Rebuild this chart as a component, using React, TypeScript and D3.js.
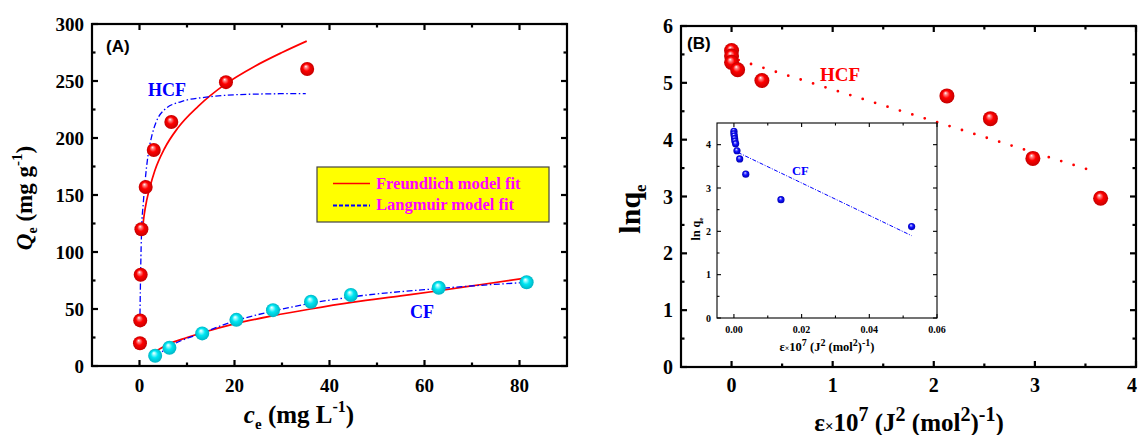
import * as d3 from 'd3';

const W = 1139;
const H = 435;
const serif = '"Liberation Serif", "Times New Roman", Times, serif';
const sans = '"Liberation Sans", Arial, Helvetica, sans-serif';

// (A) isotherm points, HCF
const hcfCe = [0.1, 0.15, 0.25, 0.4, 1.3, 3.0, 6.7, 18.2, 35.3];
const hcfQe = [20, 40, 80, 120, 157, 189.5, 214, 249, 260.5];
// (A) isotherm points, CF
const cfCe = [3.3, 6.3, 13.2, 20.4, 28.1, 36.1, 44.5, 63, 81.5];
const cfQe = [9, 16, 28.6, 40.5, 49, 56.4, 62.3, 68.7, 73.4];

// fitted curves
const hcfFreuC = [0.5, 1.0, 1.5, 2.2, 3.2, 5.3, 8.1, 12.4, 18, 24.3, 30, 35.2];
const hcfFreuQ = [115, 133, 145, 157, 171, 191, 209, 228, 247, 263, 275, 285];
const hcfLangC = [0.1, 0.25, 0.45, 0.8, 1.2, 1.8, 2.6, 3.5, 5.3, 8.8, 14.5, 24.3, 35];
const hcfLangQ = [45, 85, 120, 143, 163, 185, 202, 214, 225, 232, 236, 238.5, 239];
const cfFreuC = [3.3, 6, 10, 13, 20, 28, 36, 45, 55, 63, 72, 82];
const cfFreuQ = [12.5, 19, 25, 29, 37, 44, 50, 56, 61.5, 66, 71.5, 77.5];
const cfLangC = [3.3, 6.3, 13.2, 20.4, 28, 36, 44.5, 63, 82];
const cfLangQ = [8, 17, 29, 40, 48, 55, 60.5, 68, 73.5];

// (B) D-R plot, HCF
const hcfEps = [0.0, 0.0, 0.0, 0.06, 0.3, 2.13, 2.56, 2.98, 3.65];
const hcfLnq = [5.57, 5.47, 5.36, 5.23, 5.04, 4.77, 4.37, 3.67, 2.97];
const hcfFitEps = [0.07, 3.59];
const hcfFitLnq = [5.4, 3.44];
// (B) inset, CF
const cfEps = [0.0, 0.0, 0.0001, 0.0002, 0.0003, 0.0005, 0.0009, 0.0017, 0.0035, 0.0139, 0.0525];
const cfLnq = [4.31, 4.25, 4.2, 4.14, 4.08, 4.02, 3.86, 3.67, 3.32, 2.73, 2.11];
const cfFitEps = [0.0012, 0.0525];
const cfFitLnq = [3.82, 1.9];

// ticks
const aXMajor = [0, 20, 40, 60, 80];
const aXMinor = [10, 30, 50, 70];
const aYMajor = [0, 50, 100, 150, 200, 250, 300];
const aYMinor = [25, 75, 125, 175, 225, 275];
const bXMajor = [0, 1, 2, 3, 4];
const bXMinor = [0.5, 1.5, 2.5, 3.5];
const bYMajor = [0, 1, 2, 3, 4, 5, 6];
const bYMinor = [0.5, 1.5, 2.5, 3.5, 4.5, 5.5];
const iXMajor = [0, 0.02, 0.04, 0.06];
const iXMinor = [0.01, 0.03, 0.05];
const iYMajor = [0, 1, 2, 3, 4];
const iYMinor = [0.5, 1.5, 2.5, 3.5];

const xA = d3.scaleLinear().domain([-10, 90]).range([92, 567]);
const yA = d3.scaleLinear().domain([0, 300]).range([366, 24]);
const xB = d3.scaleLinear().domain([-0.5, 4]).range([681, 1136]);
const yB = d3.scaleLinear().domain([0, 6]).range([367, 26]);
const xI = d3.scaleLinear().domain([-0.005, 0.06]).range([717, 937]);
const yI = d3.scaleLinear().domain([0, 4.5]).range([318, 123]);

function path(xs, ys, sx, sy, smooth = true) {
    const line = d3
        .line<number>()
        .x((i) => sx(xs[i]))
        .y((i) => sy(ys[i]));
    if (smooth) line.curve(d3.curveMonotoneX);
    return line(d3.range(xs.length)) || '';
}

function Frame({ sx, sy, xMajor, xMinor, yMajor, yMinor, major, minor, sw, fs, xGap, yGap, fmtX, fmtY, xMax = W }) {
    const [x0, x1] = sx.range();
    const [y0, y1] = sy.range();
    const tick = (key, a, b, c, d) => <line key={key} x1={a} y1={b} x2={c} y2={d} stroke="#000" strokeWidth={sw} />;
    return (
        <g fontFamily={serif} fontWeight="bold" fontSize={fs}>
            {xMajor.map((v) => (
                <g key={'xM' + v}>
                    {tick('b', sx(v), y0, sx(v), y0 - major)}
                    {tick('t', sx(v), y1, sx(v), y1 + major)}
                    {/* keep the last label inside the window */}
                    <text x={Math.min(sx(v), xMax)} y={y0 + xGap} textAnchor="middle">
                        {fmtX(v)}
                    </text>
                </g>
            ))}
            {xMinor.map((v) => (
                <g key={'xm' + v}>
                    {tick('b', sx(v), y0, sx(v), y0 - minor)}
                    {tick('t', sx(v), y1, sx(v), y1 + minor)}
                </g>
            ))}
            {yMajor.map((v) => (
                <g key={'yM' + v}>
                    {tick('l', x0, sy(v), x0 + major, sy(v))}
                    {tick('r', x1, sy(v), x1 - major, sy(v))}
                    <text x={x0 - yGap} y={sy(v)} dy="0.35em" textAnchor="end">
                        {fmtY(v)}
                    </text>
                </g>
            ))}
            {yMinor.map((v) => (
                <g key={'ym' + v}>
                    {tick('l', x0, sy(v), x0 + minor, sy(v))}
                    {tick('r', x1, sy(v), x1 - minor, sy(v))}
                </g>
            ))}
            <rect x={x0} y={y1} width={x1 - x0} height={y0 - y1} fill="none" stroke="#000" strokeWidth={sw} />
        </g>
    );
}

function Balls({ xs, ys, sx, sy, r, fill }) {
    return (
        <g>
            {xs.map((v, i) => (
                <circle key={i} cx={sx(v)} cy={sy(ys[i])} r={r} fill={fill} />
            ))}
        </g>
    );
}

function Grad({ id, c0, c1, c2 }) {
    return (
        <radialGradient id={id} cx="0.5" cy="0.5" r="0.5" fx="0.4" fy="0.3">
            <stop offset="0" stopColor="#ffffff" />
            <stop offset="0.18" stopColor={c0} />
            <stop offset="0.5" stopColor={c1} />
            <stop offset="1" stopColor={c2} />
        </radialGradient>
    );
}

export default function App() {
    const fmtInt = d3.format('d');
    return (
        <div style={{ position: 'absolute', left: 0, top: 0 }}>
            <svg width={W} height={H} viewBox={`0 0 ${W} ${H}`} style={{ display: 'block' }}>
                <defs>
                    <Grad id="gRed" c0="#ff8a8a" c1="#ff0000" c2="#c40000" />
                    <Grad id="gCyan" c0="#9ffcff" c1="#00e6f2" c2="#00b4c4" />
                    <Grad id="gBlue" c0="#8a8aff" c1="#1010ff" c2="#0000b0" />
                </defs>
                <rect width={W} height={H} fill="#fff" />

                {/* ---------- panel A ---------- */}
                <path d={path(hcfFreuC, hcfFreuQ, xA, yA)} fill="none" stroke="#ff0000" strokeWidth={1.7} />
                <path d={path(cfFreuC, cfFreuQ, xA, yA)} fill="none" stroke="#ff0000" strokeWidth={1.7} />
                <path
                    d={path(hcfLangC, hcfLangQ, xA, yA)}
                    fill="none"
                    stroke="#0000ff"
                    strokeWidth={1.3}
                    strokeDasharray="6,2.5,1.5,2.5"
                />
                <path
                    d={path(cfLangC, cfLangQ, xA, yA)}
                    fill="none"
                    stroke="#0000ff"
                    strokeWidth={1.3}
                    strokeDasharray="6,2.5,1.5,2.5"
                />
                <Balls xs={hcfCe} ys={hcfQe} sx={xA} sy={yA} r={7} fill="url(#gRed)" />
                <Balls xs={cfCe} ys={cfQe} sx={xA} sy={yA} r={7} fill="url(#gCyan)" />
                <Frame
                    sx={xA}
                    sy={yA}
                    xMajor={aXMajor}
                    xMinor={aXMinor}
                    yMajor={aYMajor}
                    yMinor={aYMinor}
                    major={6}
                    minor={3.5}
                    sw={2.2}
                    fs={19}
                    xGap={25.5}
                    yGap={8}
                    fmtX={fmtInt}
                    fmtY={fmtInt}
                />
                <text x={106} y={52} fontFamily={sans} fontWeight="bold" fontSize={17}>
                    (A)
                </text>
                <text x={148} y={96} fontFamily={serif} fontWeight="bold" fontSize={18} fill="#0000ff">
                    HCF
                </text>
                <text x={410} y={318} fontFamily={serif} fontWeight="bold" fontSize={18} fill="#0000ff">
                    CF
                </text>

                {/* legend */}
                <rect x={317} y={167} width={232} height={55} fill="#ffff00" stroke="#444" strokeWidth={1.2} />
                <line x1={333} x2={370} y1={183.5} y2={183.5} stroke="#ff0000" strokeWidth={1.5} />
                <line x1={333} x2={370} y1={205.5} y2={205.5} stroke="#0000ff" strokeWidth={2.2} strokeDasharray="4,2" />
                <g fontFamily={serif} fontWeight="bold" fontSize={16.5} fill="#ff00ff">
                    <text x={376} y={189}>
                        Freundlich model fit
                    </text>
                    <text x={376} y={210}>
                        Langmuir model fit
                    </text>
                </g>

                {/* axis titles A */}
                <text
                    transform="translate(32,198) rotate(-90)"
                    textAnchor="middle"
                    fontFamily={serif}
                    fontWeight="bold"
                    fontSize={23}
                >
                    <tspan fontStyle="italic">Q</tspan>
                    <tspan fontSize={14} dy={5}>
                        e
                    </tspan>
                    <tspan dy={-5}> (mg g</tspan>
                    <tspan fontSize={15} dy={-10}>
                        -1
                    </tspan>
                    <tspan dy={10}>)</tspan>
                </text>
                <text x={299} y={423} textAnchor="middle" fontFamily={serif} fontWeight="bold" fontSize={25}>
                    <tspan fontStyle="italic">c</tspan>
                    <tspan fontSize={15} dy={6}>
                        e
                    </tspan>
                    <tspan dy={-6}> (mg L</tspan>
                    <tspan fontSize={16} dy={-11}>
                        -1
                    </tspan>
                    <tspan dy={11}>)</tspan>
                </text>

                {/* ---------- panel B ---------- */}
                <path
                    d={path(hcfFitEps, hcfFitLnq, xB, yB, false)}
                    fill="none"
                    stroke="#ff0000"
                    strokeWidth={2.8}
                    strokeLinecap="round"
                    strokeDasharray="0,13"
                />
                <Balls xs={hcfEps} ys={hcfLnq} sx={xB} sy={yB} r={7.5} fill="url(#gRed)" />
                <Frame
                    sx={xB}
                    sy={yB}
                    xMajor={bXMajor}
                    xMinor={bXMinor}
                    yMajor={bYMajor}
                    yMinor={bYMinor}
                    major={6}
                    minor={3.5}
                    sw={2.2}
                    fs={20}
                    xGap={24.5}
                    yGap={8}
                    fmtX={fmtInt}
                    fmtY={fmtInt}
                    xMax={1132}
                />
                <text x={687} y={49} fontFamily={sans} fontWeight="bold" fontSize={17}>
                    (B)
                </text>
                <text x={820} y={81} fontFamily={serif} fontWeight="bold" fontSize={19} fill="#ff0000">
                    HCF
                </text>

                {/* inset */}
                <rect x={717} y={123} width={220} height={195} fill="#fff" />
                <path
                    d={path(cfFitEps, cfFitLnq, xI, yI, false)}
                    fill="none"
                    stroke="#0000ff"
                    strokeWidth={1}
                    strokeDasharray="4,1.5,1,1.5"
                />
                <Balls xs={cfEps} ys={cfLnq} sx={xI} sy={yI} r={3.6} fill="url(#gBlue)" />
                <Frame
                    sx={xI}
                    sy={yI}
                    xMajor={iXMajor}
                    xMinor={iXMinor}
                    yMajor={iYMajor}
                    yMinor={iYMinor}
                    major={4}
                    minor={2.5}
                    sw={1.1}
                    fs={10}
                    xGap={14.5}
                    yGap={6}
                    fmtX={d3.format('.2f')}
                    fmtY={fmtInt}
                />
                <text x={792} y={175} fontFamily={serif} fontWeight="bold" fontSize={12.5} fill="#0000ff">
                    CF
                </text>
                <text
                    transform="translate(700,229) rotate(-90)"
                    textAnchor="middle"
                    fontFamily={serif}
                    fontWeight="bold"
                    fontSize={12}
                >
                    ln q
                    <tspan fontSize={7} dy={3}>
                        e
                    </tspan>
                </text>
                <text x={827} y={351} textAnchor="middle" fontFamily={serif} fontWeight="bold" fontSize={12.5}>
                    ε<tspan fontSize={8}>×</tspan>10
                    <tspan fontSize={10} dy={-5}>
                        7
                    </tspan>
                    <tspan dy={5}> (J</tspan>
                    <tspan fontSize={10} dy={-5}>
                        2
                    </tspan>
                    <tspan dy={5}> (mol</tspan>
                    <tspan fontSize={10} dy={-5}>
                        2
                    </tspan>
                    <tspan dy={5}>)</tspan>
                    <tspan fontSize={10} dy={-5}>
                        -1
                    </tspan>
                    <tspan dy={5}>)</tspan>
                </text>

                {/* axis titles B */}
                <text
                    transform="translate(640,209) rotate(-90)"
                    textAnchor="middle"
                    fontFamily={serif}
                    fontWeight="bold"
                    fontSize={30}
                >
                    lnq
                    <tspan fontSize={17} dy={6}>
                        e
                    </tspan>
                </text>
                <text x={909} y={431} textAnchor="middle" fontFamily={serif} fontWeight="bold" fontSize={25}>
                    ε<tspan fontSize={15}>×</tspan>10
                    <tspan fontSize={20} dy={-10}>
                        7
                    </tspan>
                    <tspan dy={10}> (J</tspan>
                    <tspan fontSize={20} dy={-10}>
                        2
                    </tspan>
                    <tspan dy={10}> (mol</tspan>
                    <tspan fontSize={20} dy={-10}>
                        2
                    </tspan>
                    <tspan dy={10}>)</tspan>
                    <tspan fontSize={20} dy={-10}>
                        -1
                    </tspan>
                    <tspan dy={10}>)</tspan>
                </text>
            </svg>
        </div>
    );
}
